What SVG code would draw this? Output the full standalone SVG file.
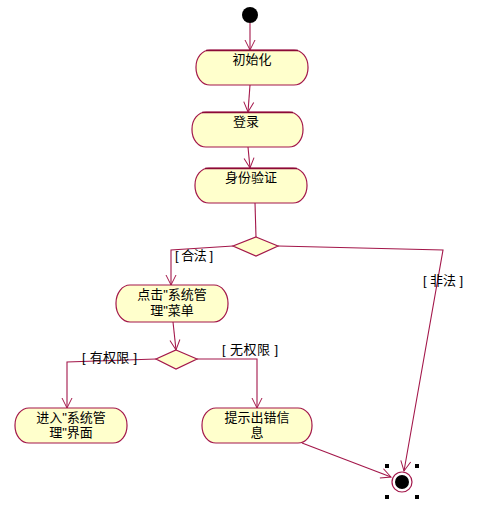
<svg xmlns="http://www.w3.org/2000/svg" width="500" height="509" viewBox="0 0 500 509">
<defs>
<marker id="arr" viewBox="0 0 12 12" refX="11" refY="6" markerWidth="12" markerHeight="12" markerUnits="userSpaceOnUse" orient="auto">
<path d="M1,1 L11,6 L1,11" fill="none" stroke="#A3174A" stroke-width="1"/>
</marker>
<style>
.node{fill:#FFFFCC;stroke:#A3174A;stroke-width:1.2}
.top{stroke:#8A0A36;stroke-width:1.6}
.t{font-family:"Liberation Sans","Noto Sans CJK SC",sans-serif;font-size:13px;fill:#000;text-anchor:middle}
.g{font-family:"Liberation Sans","Noto Sans CJK SC",sans-serif;font-size:13px;fill:#000}
.c{fill:none;stroke:#A3174A;stroke-width:1.1}
.dia{fill:#FFFFCC;stroke:#A3174A;stroke-width:1.2}
.h{fill:#000}
</style>
</defs>
<rect width="500" height="509" fill="#fff"/>
<g id="connectors">
<line class="c" x1="250" y1="23" x2="250" y2="50" marker-end="url(#arr)"/>
<line class="c" x1="250" y1="85" x2="248" y2="112" marker-end="url(#arr)"/>
<line class="c" x1="248" y1="147" x2="250" y2="168" marker-end="url(#arr)"/>
<line class="c" x1="255" y1="203" x2="256" y2="237"/>
<polyline class="c" points="233,246 171,250 171,285" marker-end="url(#arr)"/>
<polyline class="c" points="278,246 443,250 404,471" marker-end="url(#arr)"/>
<line class="c" x1="173" y1="322" x2="176" y2="350" marker-end="url(#arr)"/>
<polyline class="c" points="156,359 67,362 67,408" marker-end="url(#arr)"/>
<polyline class="c" points="197,359 257,359 257,408" marker-end="url(#arr)"/>
<line class="c" x1="302" y1="443" x2="391" y2="477" marker-end="url(#arr)"/>
<text class="g" x="175" y="260" textLength="38" lengthAdjust="spacing">[ 合法 ]</text>
<text class="g" x="222" y="354" textLength="56" lengthAdjust="spacing">[ 无权限 ]</text>
<text class="g" x="82" y="362" textLength="55" lengthAdjust="spacing">[ 有权限 ]</text>
<text class="g" x="423" y="285" textLength="40" lengthAdjust="spacing">[ 非法 ]</text>
</g>
<g id="start"><circle cx="250" cy="15" r="8" fill="#000"/></g>
<g id="n1"><rect class="node" x="196" y="50" width="112" height="35" rx="14" ry="17"/><line class="top" x1="206" y1="50.5" x2="298" y2="50.5"/><text class="t" x="252" y="64">初始化</text></g>
<g id="n2"><rect class="node" x="192" y="112" width="111" height="35" rx="14" ry="17"/><line class="top" x1="202" y1="112.5" x2="293" y2="112.5"/><text class="t" x="246" y="126">登录</text></g>
<g id="n3"><rect class="node" x="195" y="168" width="112" height="35" rx="14" ry="17"/><line class="top" x1="205" y1="168.5" x2="297" y2="168.5"/><text class="t" x="251" y="182">身份验证</text></g>
<g id="d1"><polygon class="dia" points="256,237 278,246 256,256 233,246"/></g>
<g id="n4"><rect class="node" x="116" y="285" width="112" height="37" rx="14" ry="18"/><text class="t" x="172" y="299">点击"系统管</text><text class="t" x="172" y="315">理"菜单</text></g>
<g id="d2"><polygon class="dia" points="176,350 197,359 176,369 156,359"/></g>
<g id="n5"><rect class="node" x="15" y="408" width="112" height="35" rx="14" ry="17"/><text class="t" x="71" y="422">进入"系统管</text><text class="t" x="71" y="437">理"界面</text></g>
<g id="n6"><rect class="node" x="202" y="408" width="110" height="35" rx="14" ry="17"/><text class="t" x="257" y="422">提示出错信</text><text class="t" x="257" y="437">息</text></g>
<g id="end"><circle cx="402" cy="482" r="10" fill="#fff" stroke="#A3174A" stroke-width="1.2"/><circle cx="402" cy="482" r="7" fill="#000"/>
<rect class="h" x="385" y="464" width="4" height="4"/><rect class="h" x="415" y="464" width="4" height="4"/><rect class="h" x="385" y="495" width="4" height="4"/><rect class="h" x="415" y="495" width="4" height="4"/></g>
</svg>
